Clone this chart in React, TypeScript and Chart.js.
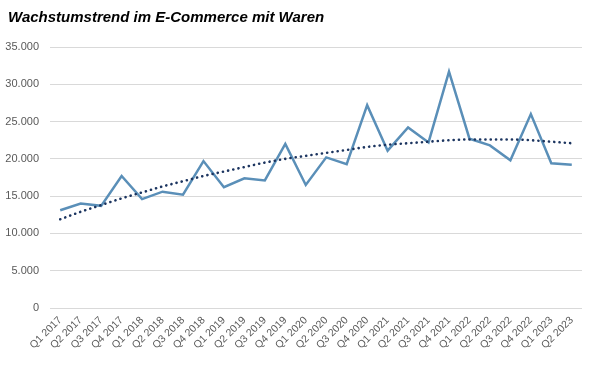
import React, { useEffect, useRef } from "react";
import { Chart, registerables } from "chart.js";

Chart.register(...registerables);

const categories = [
  "Q1 2017", "Q2 2017", "Q3 2017", "Q4 2017",
  "Q1 2018", "Q2 2018", "Q3 2018", "Q4 2018",
  "Q1 2019", "Q2 2019", "Q3 2019", "Q4 2019",
  "Q1 2020", "Q2 2020", "Q3 2020", "Q4 2020",
  "Q1 2021", "Q2 2021", "Q3 2021", "Q4 2021",
  "Q1 2022", "Q2 2022", "Q3 2022", "Q4 2022",
  "Q1 2023", "Q2 2023",
];

const umsatz = [
  13100, 14000, 13700, 17700,
  14600, 15600, 15200, 19700,
  16200, 17400, 17100, 22000,
  16500, 20200, 19300, 27200,
  21100, 24200, 22200, 31700,
  22700, 21800, 19800, 26000,
  19400, 19200,
];

const trend = [
  11900, 12900, 13800, 14700,
  15500, 16300, 17000, 17700,
  18300, 18900, 19500, 20000,
  20400, 20800, 21200, 21600,
  21900, 22100, 22300, 22500,
  22600, 22600, 22600, 22500,
  22300, 22100,
];

const yTicks = [0, 5000, 10000, 15000, 20000, 25000, 30000, 35000];
const titleText = "Wachstumstrend im E-Commerce mit Waren";

const titlePlugin = {
  id: "leftTitle",
  afterDraw(chart: any) {
    const ctx = chart.ctx;
    ctx.save();
    ctx.font = "italic bold 15px 'Liberation Sans'";
    ctx.fillStyle = "#000000";
    ctx.textAlign = "left";
    ctx.textBaseline = "middle";
    ctx.fillText(titleText, 8, 17.5);
    ctx.restore();
  },
};

export default function App() {
  const ref = useRef<HTMLCanvasElement | null>(null);

  useEffect(() => {
    document.body.style.margin = "0";
    if (!ref.current) return;
    const chart = new Chart(ref.current, {
      type: "line",
      data: {
        labels: categories,
        datasets: [
          {
            label: "Umsatz",
            data: umsatz,
            borderColor: "#5a8fb8",
            backgroundColor: "#5a8fb8",
            borderWidth: 2.5,
            pointRadius: 0,
            tension: 0,
            order: 2,
          },
          {
            label: "Trend",
            data: trend,
            borderColor: "#1c3560",
            backgroundColor: "#1c3560",
            borderWidth: 2.6,
            borderDash: [0.1, 5.2],
            borderCapStyle: "round",
            pointRadius: 0,
            cubicInterpolationMode: "monotone",
            order: 1,
          },
        ],
      },
      plugins: [titlePlugin],
      options: {
        animation: false,
        responsive: false,
        maintainAspectRatio: false,
        layout: { padding: { left: 0, right: 18, top: 47, bottom: 0 } },
        plugins: {
          legend: { display: false },
          tooltip: { enabled: false },
          title: { display: false },
        },
        scales: {
          x: {
            type: "category",
            offset: true,
            grid: { display: false, drawTicks: false },
            border: { display: false },
            ticks: {
              color: "#595959",
              font: { family: "Liberation Sans", size: 10.5 },
              minRotation: 45,
              maxRotation: 45,
              autoSkip: false,
              padding: 6,
            },
            afterFit: (scale: any) => {
              scale.height = 68;
            },
          },
          y: {
            min: 0,
            max: 35000,
            afterBuildTicks: (scale: any) => {
              scale.ticks = yTicks.map((v) => ({ value: v }));
            },
            grid: { color: "#d9d9d9", lineWidth: 1, drawTicks: false },
            border: { display: false },
            ticks: {
              color: "#595959",
              font: { family: "Liberation Sans", size: 11 },
              padding: 11,
              callback: (v: any) => Number(v).toLocaleString("de-DE"),
            },
            afterFit: (scale: any) => {
              scale.width = 50;
            },
          },
        },
      },
    });
    return () => chart.destroy();
  }, []);

  return (
    <div style={{ width: 600, height: 376 }}>
      <canvas ref={ref} width={600} height={376} />
    </div>
  );
}
